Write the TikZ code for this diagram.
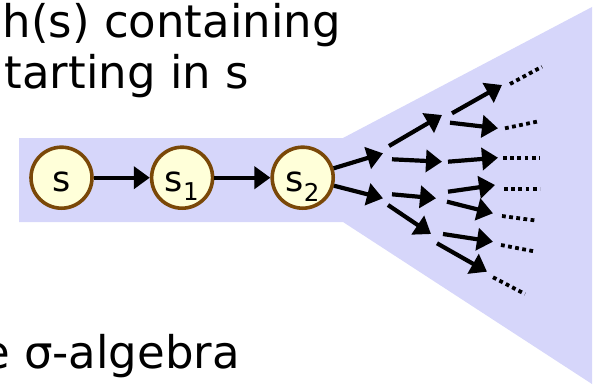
\documentclass[tikz,border=0pt]{standalone}
\usepackage{fontspec}
\setmainfont{DejaVu Sans}
\definecolor{pathBlue}{RGB}{214,214,250}
\definecolor{stateFill}{RGB}{255,255,217}
\definecolor{stateBrown}{RGB}{122,72,8}
\usetikzlibrary{arrows.meta,positioning}

\begin{document}
\begin{tikzpicture}[
    x=1pt, y=1pt,
    state/.style={circle, draw=stateBrown, fill=stateFill, line width=3.6pt,
                  minimum size=61pt, inner sep=0pt, text height=27.8pt,
                  text depth=0pt, font=\fontsize{35}{35}\selectfont},
    trans/.style={line width=4.2pt, -{Triangle[length=16pt,width=22pt]}},
    more/.style={line width=3.8pt, dash pattern=on 3.8pt off 3.4pt},
    txt/.style={font=\fontsize{45}{54}\selectfont, anchor=base east,
                inner sep=0pt},
    node distance=56pt
  ]
  \useasboundingbox (0,0) rectangle (598,384);
  % band and funnel of the paths
  \fill[pathBlue] (19,162) -- (19,246) -- (343,246) -- (592,377)
    -- (592,0) -- (343,162) -- cycle;

  \node[txt] (top1) at (341,346.7) {h(s) containing};
  \node[txt] (top2) at (249,295.7) {tarting in s};
  \node[txt] (bottom) at (240,15.7) {e σ-algebra};

  \node[state] (s) at (61.5,206.3) {s};
  \node[state, right=of s] (s1) {s\textsubscript{1}};
  \node[state, right=of s1] (s2) {s\textsubscript{2}};

  \draw[trans] (s) -- (s1);
  \draw[trans] (s1) -- (s2);

  % ends of the branches
  \coordinate (a1) at (383,230.7); \coordinate (a2) at (383,185.7);
  \coordinate (b1) at (442,269);   \coordinate (b2) at (442,222.3);
  \coordinate (b3) at (436,185.7); \coordinate (b4) at (431,150);
  \coordinate (c1) at (502,299);   \coordinate (c2) at (498,255.7);
  \coordinate (c3) at (498,226.3); \coordinate (c4) at (495,199);
  \coordinate (c5) at (493,170.7); \coordinate (c6) at (493,142.3);
  \coordinate (c7) at (487,112.3);
  \coordinate (d1) at (542,317.3); \coordinate (d2) at (540,263);
  \coordinate (d3) at (540,225.7); \coordinate (d4) at (540,194.7);
  \coordinate (d5) at (537,163.3); \coordinate (d6) at (536,132.3);
  \coordinate (d7) at (525,90);

  \draw[trans] (s2) -- (a1);
  \draw[trans] (s2) -- (a2);

  \draw[trans] ([shift={(6,7.3)}]a1) -- (b1);
  \draw[trans] ([shift={(9,-6)}]a1) -- (b2);
  \draw[trans] ([shift={(9,4)}]a2) -- (b3);
  \draw[trans] ([shift={(5,-6.7)}]a2) -- (b4);

  \draw[trans] ([shift={(10,1.7)}]b1) -- (c1);
  \draw[trans] ([shift={(8,-7.7)}]b1) -- (c2);
  \draw[trans] ([shift={(6,0)}]b2) -- (c3);
  \draw[trans] ([shift={(12,6.6)}]b3) -- (c4);
  \draw[trans] ([shift={(11,-3.4)}]b3) -- (c5);
  \draw[trans] ([shift={(12,0)}]b4) -- (c6);
  \draw[trans] ([shift={(6,-9.3)}]b4) -- (c7);

  \draw[more] ([shift={(8,1)}]c1) -- (d1);
  \draw[more] ([shift={(7,0)}]c2) -- (d2);
  \draw[more] ([shift={(5,-0.6)}]c3) -- (d3);
  \draw[more] ([shift={(9,-4.3)}]c4) -- (d4);
  \draw[more] ([shift={(9,-2.7)}]c5) -- (d5);
  \draw[more] ([shift={(8,-3.3)}]c6) -- (d6);
  \draw[more] ([shift={(6,-5.6)}]c7) -- (d7);
\end{tikzpicture}
\end{document}
